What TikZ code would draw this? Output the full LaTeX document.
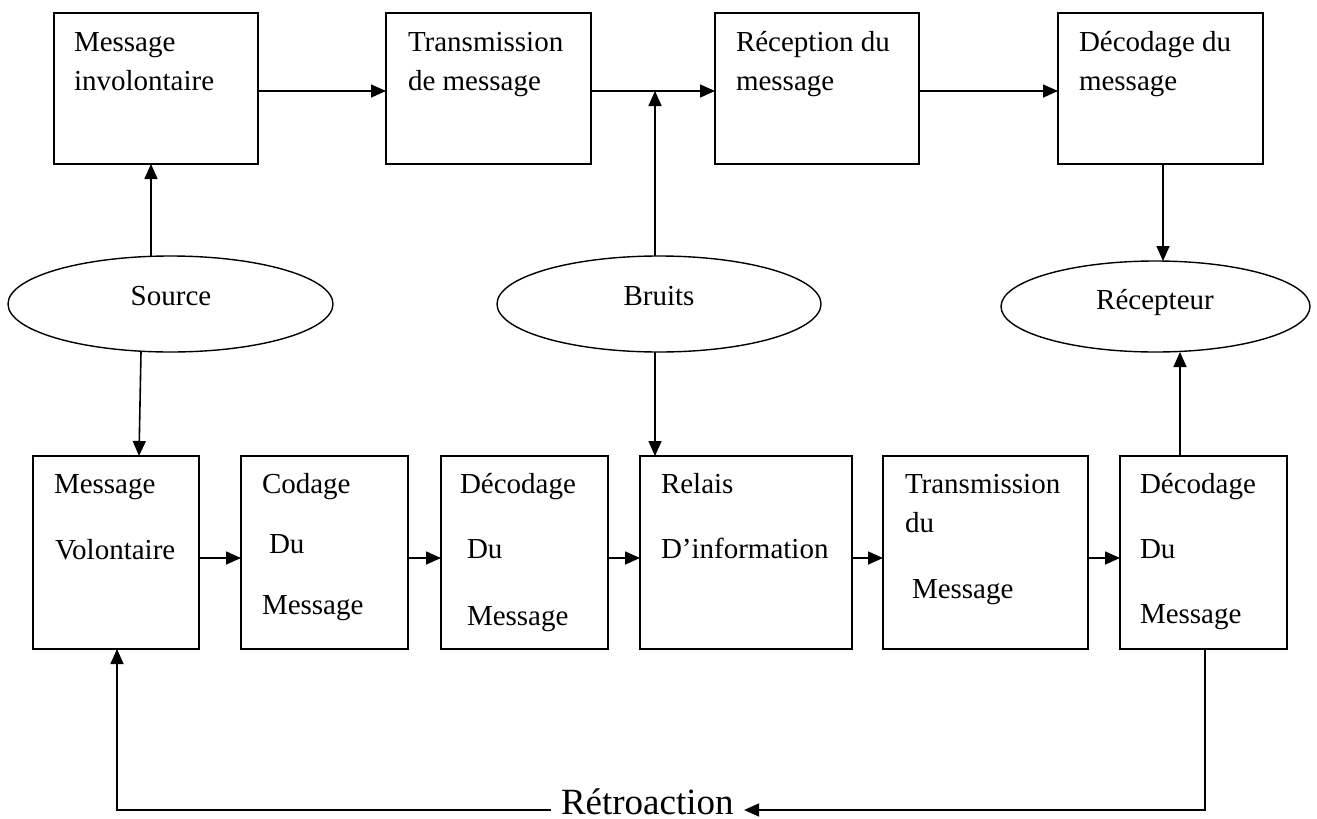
\documentclass[tikz,border=0pt]{standalone}
\usepackage{fontspec}
\setmainfont{Liberation Serif}
\usetikzlibrary{shapes.geometric,arrows.meta,calc}
\begin{document}
\begin{tikzpicture}[x=1pt,y=-1pt,
  box/.style={draw, line width=1.6pt, rectangle, inner sep=0pt, outer sep=0pt, anchor=north west},
  oval/.style={draw, line width=1.4pt, ellipse, inner sep=0pt, outer sep=0pt},
  txt/.style={inner sep=0pt, outer sep=0pt, anchor=base west, font=\fontsize{29}{35}\selectfont},
  ctxt/.style={inner sep=0pt, outer sep=0pt, anchor=base, font=\fontsize{29}{35}\selectfont},
  arr/.style={line width=1.6pt, -{Triangle[length=15pt,width=13pt]}},
]
\useasboundingbox (0,0) rectangle (1317,819);

% top row boxes
\node[box, minimum width=204pt, minimum height=151pt] (t1) at (54,13) {};
\node[box, minimum width=205pt, minimum height=151pt] (t2) at (386,13) {};
\node[box, minimum width=204pt, minimum height=151pt] (t3) at (715,13) {};
\node[box, minimum width=205pt, minimum height=151pt] (t4) at (1058,13) {};

\node[txt] (t1a) at (74,51) {Message};
\node[txt] (t1b) at (74,90) {involontaire};
\node[txt] (t2a) at (408,51) {Transmission};
\node[txt] (t2b) at (408,90) {de message};
\node[txt] (t3a) at (736,51) {Réception du};
\node[txt] (t3b) at (736,90) {message};
\node[txt] (t4a) at (1079,51) {Décodage du};
\node[txt] (t4b) at (1079,90) {message};

% ellipses
\node[oval, minimum width=325pt, minimum height=96pt] (src) at (170.5,304) {};
\node[oval, minimum width=324pt, minimum height=96pt] (bru) at (659,304) {};
\node[oval, minimum width=309pt, minimum height=91pt] (rec) at (1155.5,306.5) {};
\node[ctxt] (srct) at (171,305) {Source};
\node[ctxt] (brut) at (659,305) {Bruits};
\node[ctxt] (rect) at (1155,309) {Récepteur};

% bottom row boxes
\node[box, minimum width=166pt, minimum height=193pt] (b1) at (33,456) {};
\node[box, minimum width=167pt, minimum height=193pt] (b2) at (241,456) {};
\node[box, minimum width=167pt, minimum height=193pt] (b3) at (441,456) {};
\node[box, minimum width=212pt, minimum height=193pt] (b4) at (640,456) {};
\node[box, minimum width=205pt, minimum height=193pt] (b5) at (883,456) {};
\node[box, minimum width=167pt, minimum height=193pt] (b6) at (1120,456) {};

\node[txt] (b1a) at (54,493) {Message};
\node[txt] (b1b) at (55,559) {Volontaire};
\node[txt] (b2a) at (262,493) {Codage};
\node[txt] (b2b) at (269,553) {Du};
\node[txt] (b2c) at (262,614) {Message};
\node[txt] (b3a) at (460,493) {Décodage};
\node[txt] (b3b) at (467,558) {Du};
\node[txt] (b3c) at (467,625) {Message};
\node[txt] (b4a) at (661,493) {Relais};
\node[txt] (b4b) at (661,558) {D’information};
\node[txt] (b5a) at (905,493) {Transmission};
\node[txt] (b5b) at (905,532) {du};
\node[txt] (b5c) at (912,598) {Message};
\node[txt] (b6a) at (1140,493) {Décodage};
\node[txt] (b6b) at (1140,558) {Du};
\node[txt] (b6c) at (1140,623) {Message};

\node[inner xsep=10.5pt, inner ysep=0pt, outer sep=0pt, anchor=base west,
      font=\fontsize{37}{44}\selectfont] (retro) at (550.5,814) {Rétroaction};

% top row arrows
\draw[arr] ([yshift=-2.5pt]t1.east) -- ([yshift=-2.5pt]t2.west);
\draw[arr] ([yshift=-2.5pt]t2.east) -- ([yshift=-2.5pt]t3.west);
\draw[arr] ([yshift=-2.5pt]t3.east) -- ([yshift=-2.5pt]t4.west);

% vertical arrows
\draw[arr] ([xshift=-19.5pt]src.north) -- ([xshift=-5pt]t1.south);
\draw[arr] ([xshift=-29.5pt]src.south) -- ([xshift=23pt]b1.north);
\draw[arr] ([xshift=-4pt]bru.north) -- ([xshift=-4pt,yshift=-2.5pt]bru.north |- t2.east);
\draw[arr] ([xshift=-4pt]bru.south) -- ([xshift=-91pt]b4.north);
\draw[arr] ([xshift=2.5pt]t4.south) -- ([xshift=7.5pt]rec.north);
\draw[arr] ([xshift=-23.5pt]b6.north) -- ([xshift=24.5pt]rec.south);

% bottom row arrows
\draw[arr] ([yshift=-5.5pt]b1.east) -- ([yshift=-5.5pt]b2.west);
\draw[arr] ([yshift=-5.5pt]b2.east) -- ([yshift=-5.5pt]b3.west);
\draw[arr] ([yshift=-5.5pt]b3.east) -- ([yshift=-5.5pt]b4.west);
\draw[arr] ([yshift=-5.5pt]b4.east) -- ([yshift=-5.5pt]b5.west);
\draw[arr] ([yshift=-5.5pt]b5.east) -- ([yshift=-5.5pt]b6.west);

% feedback
\draw[arr] ([xshift=1.5pt]b6.south) |- ([yshift=4pt]retro.base east);
\draw[arr] ([yshift=4pt]retro.base west) -| ([xshift=1pt]b1.south);
\end{tikzpicture}
\end{document}
